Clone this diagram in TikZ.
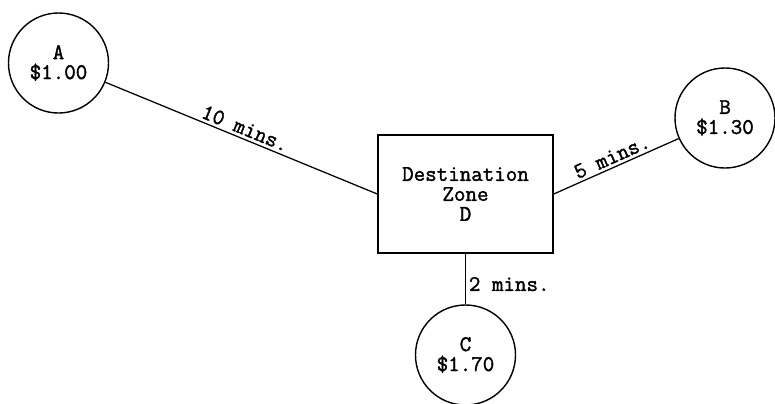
\documentclass[tikz,border=0pt]{standalone}
\usepackage{fontspec}
\setmonofont{Latin Modern Mono}[AutoFakeBold=1.6]
\usetikzlibrary{positioning}

\begin{document}
\begin{tikzpicture}[
	x=0.025cm, y=-0.025cm,
	font=\ttfamily\bfseries\fontsize{15.9}{14.2}\selectfont,
	% Styles
	zone/.style={circle, draw, line width=1pt, minimum size=2.5cm, inner sep=0pt, align=center},
	destbox/.style={rectangle, draw, line width=1pt, minimum width=4.375cm, minimum height=2.95cm, align=center},
	link/.style={line width=0.9pt},
	timelabel/.style={inner sep=2pt}
	]
	\useasboundingbox (0,0) rectangle (775,403);
	
	% ==========================================
	% Destination zone and origin zones
	% ==========================================
	\node[destbox] (D) at (465.5, 194) {Destination\\Zone\\D};
	
	\node[zone] (A) at (58.5, 63) {A\\\$1.00};
	\node[zone] (B) at (725, 118) {B\\\$1.30};
	\node[zone] (C) at (465.5, 355) {C\\\$1.70};
	
	% Travel times
	\draw[link] (A) -- node[timelabel, midway, sloped, above] {10 mins.} (D.west);
	\draw[link] (D.east) -- node[timelabel, midway, sloped, above] {5 mins.} (B);
	\draw[link] (D.south) -- node[timelabel, pos=0.6, right] {2 mins.} (C);
	
\end{tikzpicture}
\end{document}
